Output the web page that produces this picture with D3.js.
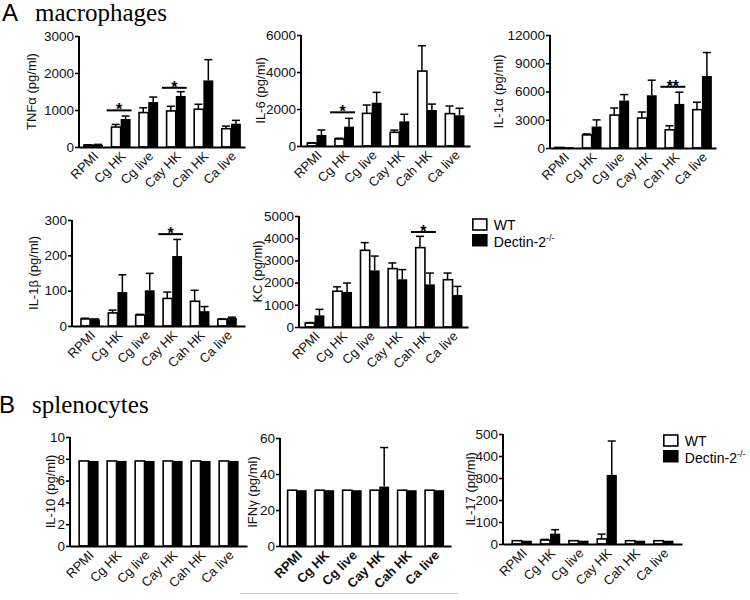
<!DOCTYPE html>
<html><head><meta charset="utf-8">
<script src="https://cdn.jsdelivr.net/npm/d3@7"></script>
<style>body{margin:0;background:#fff}svg{display:block}</style>
</head><body>
<script>
// ---------------- DATA ----------------
const categories = ["RPMI", "Cg HK", "Cg live", "Cay HK", "Cah HK", "Ca live"];
const seriesNames = ["WT", "Dectin-2"];

const tnfWT = [50, 540, 930, 975, 1020, 495];
const tnfWTErr = [10, 70, 130, 125, 135, 70];
const tnfKO = [60, 757, 1215, 1380, 1800, 630];
const tnfKOErr = [10, 80, 135, 115, 560, 90];
const tnfTicks = [0, 1000, 2000, 3000];
const tnfSig = [{cat: "Cg HK", level: 990, label: "*"}, {cat: "Cay HK", level: 1600, label: "*"}];

const il6WT = [150, 380, 1765, 740, 4050, 1750];
const il6WTErr = [30, 40, 450, 120, 1370, 410];
const il6KO = [595, 1045, 2340, 1335, 1945, 1660];
const il6KOErr = [270, 450, 560, 380, 320, 380];
const il6Ticks = [0, 2000, 4000, 6000];
const il6Sig = [{cat: "Cg HK", level: 1820, label: "*"}];

const il1aWT = [60, 1390, 3500, 3180, 1930, 4070];
const il1aWTErr = [0, 100, 750, 640, 430, 790];
const il1aKO = [90, 2285, 5035, 5600, 4680, 7640];
const il1aKOErr = [0, 700, 640, 1600, 1250, 2500];
const il1aTicks = [0, 3000, 6000, 9000, 12000];
const il1aSig = [{cat: "Cah HK", level: 6500, label: "**"}];

const il1bWT = [20, 37, 31, 78, 70, 19];
const il1bWTErr = [2, 8, 2, 18, 31, 1];
const il1bKO = [19, 96, 101, 198, 42, 23];
const il1bKOErr = [1, 49, 48, 47, 13, 2];
const il1bTicks = [0, 100, 200, 300];
const il1bSig = [{cat: "Cay HK", level: 260, label: "*"}];

const kcWT = [180, 1610, 3455, 2630, 3575, 2130];
const kcWTErr = [20, 200, 345, 255, 510, 300];
const kcKO = [525, 1580, 2550, 2150, 1920, 1440];
const kcKOErr = [270, 400, 645, 435, 510, 390];
const kcTicks = [0, 1000, 2000, 3000, 4000, 5000];
const kcSig = [{cat: "Cah HK", level: 4280, label: "*"}];

const il10WT = [7.8, 7.8, 7.8, 7.8, 7.8, 7.8];
const il10WTErr = [0, 0, 0, 0, 0, 0];
const il10KO = [7.8, 7.8, 7.8, 7.8, 7.8, 7.8];
const il10KOErr = [0, 0, 0, 0, 0, 0];
const il10Ticks = [0, 2, 4, 6, 8, 10];

const ifngWT = [31, 31, 31, 31, 31, 31];
const ifngWTErr = [0, 0, 0, 0, 0, 0];
const ifngKO = [31, 31, 31, 33, 31, 31];
const ifngKOErr = [0, 0, 0, 21.7, 0, 0];
const ifngTicks = [0, 20, 40, 60];

const il17WT = [15, 18, 15, 23, 15, 15];
const il17WTErr = [0, 3, 0, 22, 0, 0];
const il17KO = [15, 47, 15, 314, 15, 15];
const il17KOErr = [0, 18, 0, 154, 0, 0];
const il17Ticks = [0, 100, 200, 300, 400, 500];

// ---------------- LAYOUT ----------------
const W = 750, H = 600;
const FONT = "'Liberation Sans', Arial, Helvetica, sans-serif";
const SERIF = "'Liberation Serif', 'Times New Roman', serif";

const svg = d3.select("body").append("svg").attr("width", W).attr("height", H);

const charts = [
  {title: "TNFα (pg/ml)", wt: tnfWT, wtErr: tnfWTErr, ko: tnfKO, koErr: tnfKOErr, ticks: tnfTicks, sig: tnfSig,
   box: [79, 245, 36, 147], tx: 31, po: 0.15},
  {title: "IL-6 (pg/ml)", wt: il6WT, wtErr: il6WTErr, ko: il6KO, koErr: il6KOErr, ticks: il6Ticks, sig: il6Sig,
   box: [301, 470, 35, 146], tx: 260, po: 0.2},
  {title: "IL-1α (pg/ml)", wt: il1aWT, wtErr: il1aWTErr, ko: il1aKO, koErr: il1aKOErr, ticks: il1aTicks, sig: il1aSig,
   box: [550, 716, 35, 148], tx: 498, po: 0.15},
  {title: "IL-1β (pg/ml)", wt: il1bWT, wtErr: il1bWTErr, ko: il1bKO, koErr: il1bKOErr, ticks: il1bTicks, sig: il1bSig,
   box: [72, 245, 220, 326], tx: 33, po: 0.3},
  {title: "KC (pg/ml)", wt: kcWT, wtErr: kcWTErr, ko: kcKO, koErr: kcKOErr, ticks: kcTicks, sig: kcSig,
   box: [299, 468, 216, 327], tx: 257, po: 0.2},
  {title: "IL-10 (pg/ml)", wt: il10WT, wtErr: il10WTErr, ko: il10KO, koErr: il10KOErr, ticks: il10Ticks, sig: [],
   box: [70, 247, 437, 546], tx: 50, po: 0.3},
  {title: "IFNγ (pg/ml)", wt: ifngWT, wtErr: ifngWTErr, ko: ifngKO, koErr: ifngKOErr, ticks: ifngTicks, sig: [],
   box: [280, 451, 438, 546], tx: 252, po: 0.25, bold: true},
  {title: "IL-17 (pg/ml)", wt: il17WT, wtErr: il17WTErr, ko: il17KO, koErr: il17KOErr, ticks: il17Ticks, sig: [],
   box: [503, 682, 434, 544], tx: 470, po: 0.3}
];

function drawChart(c) {
  const [x0, x1, yTop, yBot] = c.box;
  const g = svg.append("g");
  const x = d3.scaleBand().domain(categories).range([x0, x1]).paddingInner(0.28).paddingOuter(c.po);
  const xi = d3.scaleBand().domain(seriesNames).range([0, x.bandwidth()]);
  const y = d3.scaleLinear().domain([0, d3.max(c.ticks)]).range([yBot, yTop]);

  const rows = categories.map((cat, i) => ({cat, wt: c.wt[i], wtErr: c.wtErr[i], ko: c.ko[i], koErr: c.koErr[i]}));

  // bars
  const grp = g.selectAll("g.grp").data(rows).join("g").attr("transform", d => `translate(${x(d.cat)},0)`);
  grp.append("rect")
    .attr("x", xi("Dectin-2")).attr("width", xi.bandwidth())
    .attr("y", d => y(d.ko)).attr("height", d => yBot - y(d.ko))
    .attr("fill", "#000");
  grp.append("rect")
    .attr("x", xi("WT") + 0.75).attr("width", xi.bandwidth() - 0.75)
    .attr("y", d => y(d.wt)).attr("height", d => Math.max(0, yBot - y(d.wt)))
    .attr("fill", "#fff").attr("stroke", "#000").attr("stroke-width", 1.6);

  // error bars
  const err = [];
  rows.forEach(d => {
    if (d.wtErr > 0) err.push({cx: x(d.cat) + xi("WT") + xi.bandwidth() / 2, v: d.wt, e: d.wtErr});
    if (d.koErr > 0) err.push({cx: x(d.cat) + xi("Dectin-2") + xi.bandwidth() / 2, v: d.ko, e: d.koErr});
  });
  const eg = g.selectAll("g.err").data(err).join("g").attr("stroke", "#000").attr("stroke-width", 1.5);
  eg.append("line").attr("x1", d => d.cx).attr("x2", d => d.cx).attr("y1", d => y(d.v)).attr("y2", d => y(d.v + d.e));
  eg.append("line").attr("x1", d => d.cx - 4).attr("x2", d => d.cx + 4).attr("y1", d => y(d.v + d.e)).attr("y2", d => y(d.v + d.e));

  // y axis
  const ya = g.append("g").attr("transform", `translate(${x0},0)`)
    .call(d3.axisLeft(y).tickValues(c.ticks).tickFormat(d3.format("d")).tickSize(4).tickSizeOuter(0).tickPadding(1));
  ya.select(".domain").attr("stroke-width", 2).attr("d", `M0,${yBot + 1}V${yTop}`);
  ya.selectAll(".tick line").attr("stroke-width", 1.6);
  ya.selectAll("text").attr("font-family", FONT).attr("font-size", 13.5).attr("fill", "#111");

  // x axis
  const xa = g.append("g").attr("transform", `translate(0,${yBot})`)
    .call(d3.axisBottom(x).tickSize(0).tickSizeOuter(0));
  xa.select(".domain").attr("stroke-width", 2);
  xa.selectAll("text")
    .attr("font-family", FONT).attr("font-size", 13).attr("fill", "#111")
    .attr("font-weight", c.bold ? "bold" : null)
    .attr("text-anchor", "end").attr("dy", null).attr("y", 0)
    .attr("transform", "translate(6,10) rotate(-45)");

  // axis title
  g.append("text")
    .attr("transform", `translate(${c.tx},${(yTop + yBot) / 2}) rotate(-90)`)
    .attr("text-anchor", "middle").attr("dy", "0.35em")
    .attr("font-family", FONT).attr("font-size", 13).attr("fill", "#111")
    .text(c.title);

  // significance
  c.sig.forEach(s => {
    const sx0 = x(s.cat) - 4, sx1 = x(s.cat) + x.bandwidth() + 1;
    g.append("line").attr("x1", sx0).attr("x2", sx1).attr("y1", y(s.level)).attr("y2", y(s.level))
      .attr("stroke", "#000").attr("stroke-width", 2);
    g.append("text").attr("x", (sx0 + sx1) / 2).attr("y", y(s.level) + 5)
      .attr("text-anchor", "middle").attr("font-family", FONT).attr("font-size", 16).attr("font-weight", "bold")
      .text(s.label);
  });
}

charts.forEach(drawChart);

// panel titles
function panelTitle(letter, word, x, yb) {
  svg.append("text").attr("x", x).attr("y", yb).attr("font-family", FONT).attr("font-size", 24).text(letter);
  svg.append("text").attr("x", x + 33).attr("y", yb).attr("font-family", SERIF).attr("font-size", 25).text(word);
}
panelTitle("A", "macrophages", 2, 21);
panelTitle("B", "splenocytes", -1, 413);

// legends
function legend(lx, ly) {
  const lg = svg.append("g").attr("font-family", FONT).attr("font-size", 14);
  lg.append("rect").attr("x", lx).attr("y", ly).attr("width", 14).attr("height", 11)
    .attr("fill", "#fff").attr("stroke", "#000").attr("stroke-width", 1.6);
  lg.append("rect").attr("x", lx - 0.8).attr("y", ly + 15).attr("width", 15.6).attr("height", 12.5).attr("fill", "#000");
  lg.append("text").attr("x", lx + 21).attr("y", ly + 11).text(seriesNames[0]);
  const t = lg.append("text").attr("x", lx + 21).attr("y", ly + 27.5).text(seriesNames[1]);
  t.append("tspan").attr("font-size", 9).attr("dy", -6).text("-/-");
}
legend(472.8, 219);
legend(663.8, 435);

// faint rule under the IFN-gamma panel
svg.append("line").attr("x1", 240).attr("x2", 458).attr("y1", 593.5).attr("y2", 593.5)
  .attr("stroke", "#c8c8c8").attr("stroke-width", 1);
</script>
</body></html>
